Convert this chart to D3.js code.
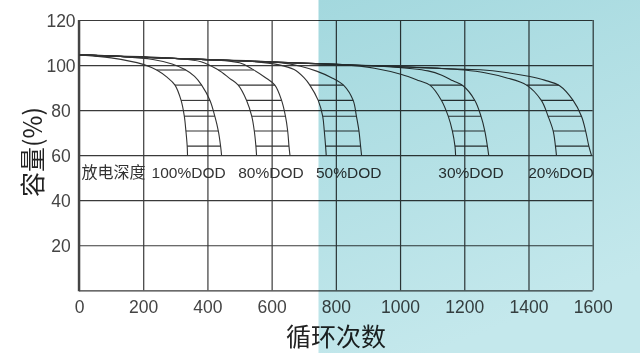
<!DOCTYPE html>
<html lang="zh">
<head>
<meta charset="UTF-8">
<title>DOD cycle life</title>
<script src="https://d3js.org/d3.v7.min.js"></script>
<style>
  body { margin: 0; background: #fff; }
  svg { display: block; }
</style>
</head>
<body>
<svg></svg>
<script>
// ---- data ----
const xTicks = [0, 200, 400, 600, 800, 1000, 1200, 1400, 1600];
const yTicks = [20, 40, 60, 80, 100, 120];
const dodLabels = ["100%DOD", "80%DOD", "50%DOD", "30%DOD", "20%DOD"];

// common upper line all curves start from (cycles, capacity %)
const envelope = [[0, 104.5], [400, 102.4], [800, 100.3], [1200, 98.1], [1600, 96]];

// each DOD band: inner (shorter life) and outer (longer life) curve
const dod100Inner = [[0, 104.5], [100, 103.2], [200, 100.3], [242, 97.8], [275, 94.5], [299, 91.1], [318, 84.3], [328, 77.3], [333, 70.7], [337, 64], [338, 60]];
const dod100Outer = [[130, 103.8], [230, 102.5], [290, 100.5], [330, 98], [360, 95], [382, 91.1], [408, 84.3], [423, 77.3], [434, 70.7], [441, 64], [444, 60]];
const dod80Inner = [[300, 102.9], [380, 101.5], [432, 98], [470, 94], [496, 91.1], [522, 84.3], [538, 77.3], [546, 70.7], [551, 64], [553, 60]];
const dod80Outer = [[420, 102.3], [500, 101], [540, 98.2], [580, 94.5], [610, 91.1], [631, 84.3], [643, 77.3], [650, 70.7], [654, 64], [657, 60]];
const dod50Inner = [[540, 101.6], [620, 100.2], [670, 98], [700, 94.5], [719, 91.1], [745, 84.3], [759, 77.3], [764, 70.7], [768, 64], [770, 60]];
const dod50Outer = [[620, 101.2], [690, 99.5], [740, 97.3], [785, 94.5], [826, 90.8], [854, 84.3], [864, 77.3], [872, 70.7], [877, 64], [880, 60]];
const dod30Inner = [[820, 100.2], [920, 98.6], [1005, 95.8], [1060, 93], [1093, 91.1], [1129, 84.3], [1150, 77.3], [1163, 70.7], [1171, 64], [1173, 60]];
const dod30Outer = [[950, 99.4], [1030, 98.5], [1087, 97.4], [1130, 95.5], [1165, 93], [1196, 90.8], [1233, 84.3], [1252, 77.3], [1264, 70.7], [1272, 64], [1276, 60]];
const dod20Inner = [[1130, 98.5], [1200, 97.8], [1264, 96.6], [1330, 94.4], [1394, 91.1], [1440, 84.3], [1461, 77.3], [1477, 70.7], [1484, 64], [1487, 60]];
const dod20Outer = [[1250, 97.9], [1330, 96.7], [1400, 95], [1450, 93.3], [1497, 90.8], [1539, 84.3], [1565, 77.3], [1578, 70.7], [1588, 64], [1596, 60]];

const bands = [
  [dod100Inner, dod100Outer],
  [dod80Inner, dod80Outer],
  [dod50Inner, dod50Outer],
  [dod30Inner, dod30Outer],
  [dod20Inner, dod20Outer]
];
const hatchLevels = [64, 70.7, 77.3, 84.3, 91.1, 97.8];
const hatchCount = [6, 6, 5, 5, 5];

// ---- layout ----
const width = 640, height = 353;
const margin = { left: 79, right: 47.3, top: 20, bottom: 62.7 };
const labelX = [226, 496, 738, 1119, 1399];   // cycles where each DOD label starts
const labelY = 50;                            // baseline, in capacity units

const svg = d3.select("svg").attr("width", width).attr("height", height);

const defs = svg.append("defs");
const grad = defs.append("linearGradient").attr("id", "teal")
  .attr("x1", 0).attr("y1", 0).attr("x2", 0.35).attr("y2", 1);
grad.append("stop").attr("offset", 0).attr("stop-color", "#a3d8de");
grad.append("stop").attr("offset", 1).attr("stop-color", "#c4e8ec");

svg.append("rect").attr("width", width).attr("height", height).attr("fill", "#fff");

const x = d3.scaleLinear().domain([0, 1600]).range([margin.left, width - margin.right]);
const y = d3.scaleLinear().domain([0, 120]).range([height - margin.bottom, margin.top]);

const tickFont = "17.5px 'Liberation Sans', Arial, sans-serif";

// grid + tick labels
const xAxis = d3.axisBottom(x).tickValues(xTicks).tickFormat(d3.format("d"))
  .tickSize(-(y(0) - y(120))).tickPadding(10.5);
svg.append("g")
  .attr("transform", `translate(0,${y(0)})`)
  .call(xAxis)
  .call(g => g.select(".domain").remove())
  .call(g => g.selectAll(".tick line").attr("stroke", "#3a3a3a").attr("stroke-width", 1.2))
  .call(g => g.selectAll(".tick text").attr("fill", "#444").style("font", tickFont));

const yAxis = d3.axisLeft(y).tickValues([0].concat(yTicks)).tickSize(-(x(1600) - x(0))).tickPadding(0)
  .tickFormat(d => d === 0 ? "" : d);
svg.append("g")
  .attr("transform", `translate(${x(0)},0)`)
  .call(yAxis)
  .call(g => g.select(".domain").remove())
  .call(g => g.selectAll(".tick line").attr("stroke", "#3a3a3a").attr("stroke-width", 1.2))
  .call(g => g.selectAll(".tick text")
    .attr("x", 61 - x(0)).attr("dy", "0.35em").attr("text-anchor", "middle")
    .attr("fill", "#444").style("font", tickFont));

// thick left axis
svg.append("line")
  .attr("x1", x(0)).attr("x2", x(0)).attr("y1", y(120)).attr("y2", y(0) + 1)
  .attr("stroke", "#444").attr("stroke-width", 2.4);

// curves
const line = d3.line().x(d => x(d[0])).y(d => y(d[1])).curve(d3.curveCatmullRom.alpha(0.5));
const withEnvelope = c => envelope.filter(p => p[0] < c[0][0]).concat(c);

const curveG = svg.append("g").attr("fill", "none").attr("stroke", "#333").attr("stroke-width", 1.1);
const paths = bands.map(band => band.map(c =>
  curveG.append("path").attr("d", line(withEnvelope(c))).node()));

// x position where a path reaches a given pixel height
function xAtY(node, py) {
  const len = node.getTotalLength();
  let prev = node.getPointAtLength(0);
  for (let s = 0.5; s <= len; s += 0.5) {
    const p = node.getPointAtLength(s);
    if (p.y >= py) {
      const t = (py - prev.y) / ((p.y - prev.y) || 1);
      return prev.x + t * (p.x - prev.x);
    }
    prev = p;
  }
  return prev.x;
}

// hatch lines between the two curves of each band
bands.forEach((band, i) => {
  hatchLevels.slice(0, hatchCount[i]).forEach(v => {
    const py = y(v);
    curveG.append("line")
      .attr("x1", xAtY(paths[i][0], py)).attr("x2", xAtY(paths[i][1], py))
      .attr("y1", py).attr("y2", py);
  });
});

// labels
svg.append("text")
  .attr("x", x(8)).attr("y", y(labelY))
  .attr("fill", "#333").style("font", "16px 'Noto Sans CJK SC', sans-serif")
  .text("放电深度");

svg.selectAll(".dod").data(dodLabels).join("text")
  .attr("class", "dod")
  .attr("x", (d, i) => x(labelX[i])).attr("y", y(labelY))
  .attr("fill", "#333").style("font", "15.5px 'Liberation Sans', Arial, sans-serif")
  .text(d => d);

svg.append("text")
  .attr("x", 336).attr("y", 335).attr("text-anchor", "middle").attr("dominant-baseline", "central")
  .attr("fill", "#222").style("font", "25px 'Noto Sans CJK SC', sans-serif")
  .text("循环次数");

svg.append("text")
  .attr("transform", "translate(31,152) rotate(-90)")
  .attr("text-anchor", "middle").attr("dominant-baseline", "central")
  .attr("fill", "#222").style("font", "25px 'Noto Sans CJK SC', sans-serif")
  .text("容量(%)");

// teal panel over the right part
svg.append("rect")
  .attr("x", 318.5).attr("y", 0).attr("width", width - 318.5).attr("height", height)
  .attr("fill", "url(#teal)")
  .style("mix-blend-mode", "multiply");
</script>
</body>
</html>
